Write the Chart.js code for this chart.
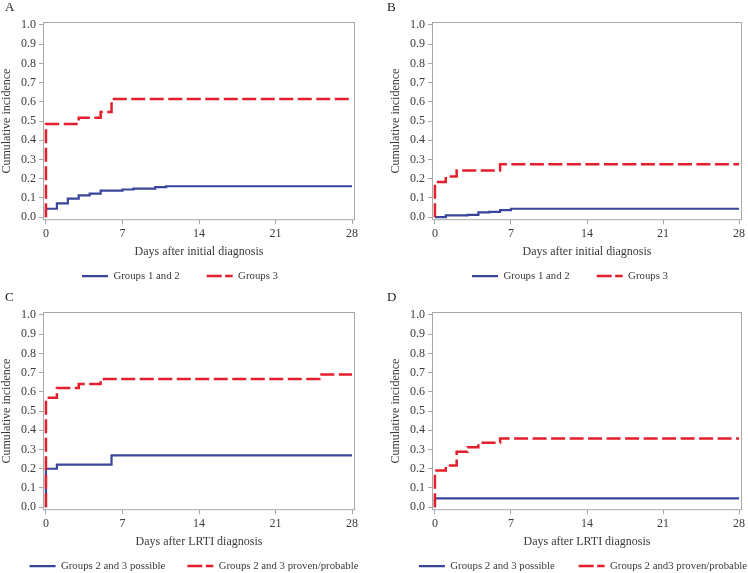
<!DOCTYPE html>
<html>
<head>
<meta charset="utf-8">
<script src="https://cdn.jsdelivr.net/npm/chart.js@4.4.1/dist/chart.umd.min.js"></script>
<style>
    html, body { margin: 0; padding: 0; background: #fff; overflow: hidden; }
    body { width: 748px; height: 573px; position: relative; }
    canvas { position: absolute; }
</style>
</head>
<body>
<canvas id="chart-a" width="374" height="292" style="left:0;top:0"></canvas>
<canvas id="chart-b" width="371" height="292" style="left:382px;top:0"></canvas>
<canvas id="chart-c" width="383" height="292" style="left:0;top:290px"></canvas>
<canvas id="chart-d" width="397" height="292" style="left:382px;top:290px"></canvas>
<script>
// Axis ticks (shared by all panels)
const xTicks = [0, 7, 14, 21, 28];
const yTicks = [0, 0.1, 0.2, 0.3, 0.4, 0.5, 0.6, 0.7, 0.8, 0.9, 1.0];

// Panel A - days after initial diagnosis
const aDaysBlue = [0, 0, 1, 2, 3, 4, 5, 7, 8, 10, 11, 28];
const aValsBlue = [0, 0.044, 0.072, 0.097, 0.114, 0.123, 0.138, 0.144, 0.149, 0.156, 0.161, 0.161];
const aDaysRed = [0, 0, 3, 5, 6, 28];
const aValsRed = [0, 0.485, 0.518, 0.547, 0.615, 0.615];

// Panel B - days after initial diagnosis
const bDaysBlue = [0, 1, 3, 4, 5, 6, 7, 28];
const bValsBlue = [0, 0.009, 0.012, 0.025, 0.028, 0.037, 0.044, 0.044];
const bDaysRed = [0, 0, 1, 2, 6, 28];
const bValsRed = [0, 0.183, 0.212, 0.243, 0.276, 0.276];

// Panel C - days after LRTI diagnosis
const cDaysBlue = [0, 0, 1, 6, 28];
const cValsBlue = [0, 0.2, 0.221, 0.27, 0.27];
const cDaysRed = [0, 0, 1, 3, 5, 25, 28];
const cValsRed = [0, 0.569, 0.62, 0.641, 0.667, 0.69, 0.69];

// Panel D - days after LRTI diagnosis
const dDaysBlue = [0, 0, 28];
const dValsBlue = [0, 0.046, 0.046];
const dDaysRed = [0, 0, 1, 2, 3, 4, 6, 28];
const dValsRed = [0, 0.191, 0.217, 0.288, 0.312, 0.335, 0.358, 0.358];

const BLUE = "#39459b";
const RED = "#e41e2b";
const AXIS = "#a8a8a8";
const TEXT = "#3a3a3a";
const FONT = "'Liberation Serif', 'Times New Roman', serif";

// box round the plot area
const framePlugin = {
    id: "frame",
    beforeDatasetsDraw(chart) {
        const { ctx, chartArea: a } = chart;
        ctx.save();
        ctx.strokeStyle = AXIS;
        ctx.lineWidth = 1;
        ctx.strokeRect(a.left + 0.5, a.top + 0.5, a.right - a.left - 1, a.bottom - a.top - 1);
        ctx.restore();
    },
};

function toPoints(days, vals) {
    return days.map((d, i) => ({ x: d, y: vals[i] }));
}

function makeChart(id, p) {
    const ctx = document.getElementById(id).getContext("2d");
    // legend height grows with its padding, so the x axis shrinks by the same amount
    const xHeight = 50.5 - p.legendGap;
    const xTitleBottom = 11.3 - p.legendGap;

    return new Chart(ctx, {
        type: "line",
        data: {
            datasets: [
                {
                    label: p.labels[0],
                    data: toPoints(p.daysBlue, p.valsBlue),
                    borderColor: BLUE,
                    backgroundColor: BLUE,
                    borderWidth: 2.2,
                    pointRadius: 0,
                    stepped: true,
                    order: 1,
                },
                {
                    label: p.labels[1],
                    data: toPoints(p.daysRed, p.valsRed),
                    borderColor: RED,
                    backgroundColor: RED,
                    borderWidth: 2.5,
                    borderDash: [14, 4.5],
                    pointRadius: 0,
                    stepped: true,
                    order: 0,
                },
            ],
        },
        options: {
            responsive: false,
            animation: false,
            layout: { padding: { left: 5, right: p.padRight, top: 0, bottom: 0.5 } },
            scales: {
                x: {
                    type: "linear",
                    min: -0.27,
                    max: 28.27,
                    afterBuildTicks: (s) => { s.ticks = xTicks.map((v) => ({ value: v })); },
                    afterFit: (s) => { s.height = xHeight; },
                    border: { display: false },
                    grid: { drawOnChartArea: false, color: AXIS, tickLength: 4 },
                    ticks: { color: TEXT, padding: 2, maxRotation: 0, autoSkip: false, font: { family: FONT, size: 12 } },
                    title: {
                        display: true,
                        text: p.xTitle,
                        color: TEXT,
                        font: { family: FONT, size: 12 },
                        padding: { top: 0, bottom: xTitleBottom },
                    },
                },
                y: {
                    min: -0.0156,
                    max: 1.0156,
                    afterBuildTicks: (s) => { s.ticks = yTicks.map((v) => ({ value: v })); },
                    afterFit: (s) => { s.width = p.yWidth; },
                    border: { display: false },
                    grid: { drawOnChartArea: false, color: AXIS, tickLength: 4 },
                    ticks: {
                        color: TEXT,
                        padding: 3,
                        autoSkip: false,
                        font: { family: FONT, size: 12 },
                        callback: (v) => v.toFixed(1),
                    },
                    title: {
                        display: true,
                        text: "Cumulative incidence",
                        color: TEXT,
                        font: { family: FONT, size: 12 },
                        padding: { top: p.yTitlePad, bottom: 0 },
                    },
                },
                // empty right-hand axis, only keeps room so the legend can be wider than the plot
                yRight: {
                    position: "right",
                    afterFit: (s) => { s.width = p.rightSpace; },
                    grid: { display: false },
                    border: { display: false },
                    ticks: { display: false },
                },
            },
            plugins: {
                title: {
                    display: true,
                    text: p.letter,
                    align: "start",
                    color: "#222",
                    font: { family: FONT, size: 13, weight: "normal" },
                    padding: { top: 0, bottom: 6.4 },
                },
                legend: {
                    position: "bottom",
                    labels: {
                        boxWidth: 26,
                        boxHeight: 0,
                        padding: p.legendGap,
                        color: TEXT,
                        font: { family: FONT, size: 10.8 },
                        sort: (a, b) => a.datasetIndex - b.datasetIndex,
                    },
                },
                tooltip: { enabled: false },
            },
        },
        plugins: [framePlugin],
    });
}

makeChart("chart-a", {
    letter: "A", xTitle: "Days after initial diagnosis",
    labels: ["Groups 1 and 2", "Groups 3"],
    daysBlue: aDaysBlue, valsBlue: aValsBlue, daysRed: aDaysRed, valsRed: aValsRed,
    padRight: 19, rightSpace: 0, yWidth: 38, yTitlePad: -5.7, legendGap: 27,
});
makeChart("chart-b", {
    letter: "B", xTitle: "Days after initial diagnosis",
    labels: ["Groups 1 and 2", "Groups 3"],
    daysBlue: bDaysBlue, valsBlue: bValsBlue, daysRed: bDaysRed, valsRed: bValsRed,
    padRight: 0, rightSpace: 11, yWidth: 45, yTitlePad: 1.3, legendGap: 27,
});
makeChart("chart-c", {
    letter: "C", xTitle: "Days after LRTI diagnosis",
    labels: ["Groups 2 and 3 possible", "Groups 2 and 3 proven/probable"],
    daysBlue: cDaysBlue, valsBlue: cValsBlue, daysRed: cDaysRed, valsRed: cValsRed,
    padRight: 0, rightSpace: 28, yWidth: 38, yTitlePad: -5.7, legendGap: 22,
});
makeChart("chart-d", {
    letter: "D", xTitle: "Days after LRTI diagnosis",
    labels: ["Groups 2 and 3 possible", "Groups 2 and3 proven/probable"],
    daysBlue: dDaysBlue, valsBlue: dValsBlue, daysRed: dDaysRed, valsRed: dValsRed,
    padRight: 0, rightSpace: 37, yWidth: 45, yTitlePad: 1.3, legendGap: 24,
});
</script>
</body>
</html>
